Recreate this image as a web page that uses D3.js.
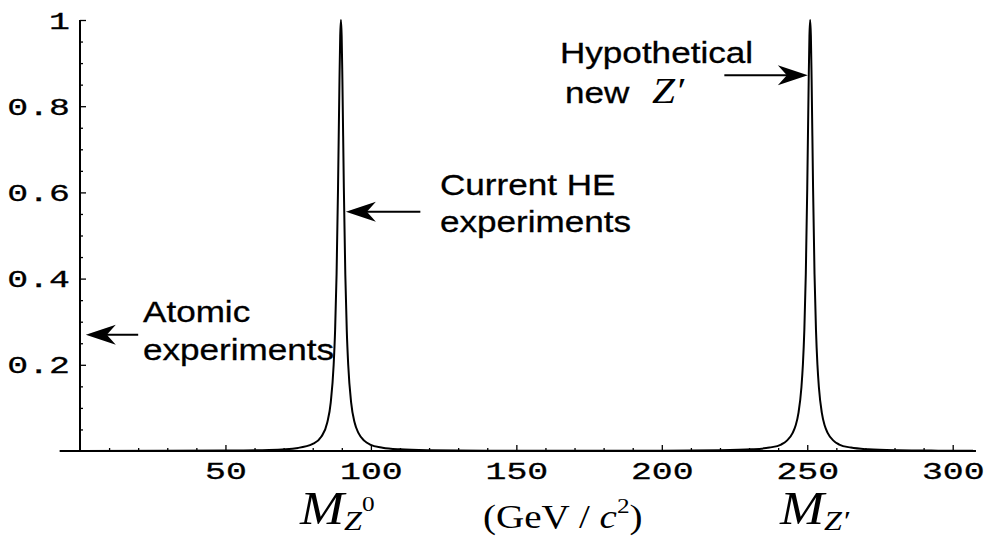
<!DOCTYPE html>
<html>

<head>
    <title>Z resonance</title>
    <script src="https://d3js.org/d3.v7.min.js"></script>
    <style>
        body { margin: 0; background: #fff; }
    </style>
</head>

<body>

    <svg width="984" height="538" id="mainSvg"></svg>
    <script>

        // values
        const curveMass = [0, 30, 50, 65, 75, 80, 83, 85, 86.2, 87.2, 87.7, 88.2, 88.7, 89.2, 89.45, 89.7,
            89.95, 90.2, 90.7, 91.2, 91.7, 92.2, 93.2, 94.4, 95.7, 97.7, 99.7, 104, 110, 120, 140, 170,
            200, 220, 231, 237, 241, 243, 245, 246, 247, 248, 248.5, 249, 249.5, 250, 250.5, 250.75, 251,
            251.25, 251.5, 252, 252.5, 253, 253.5, 254, 255, 256, 257, 259, 261, 265, 271, 281, 295, 307];
        const curveValue = [0.0002, 0.0004, 0.001, 0.0026, 0.0072, 0.0163, 0.0336, 0.066, 0.113, 0.2, 0.281, 0.41, 0.61, 0.862, 0.962, 1,
            0.962, 0.862, 0.61, 0.41, 0.281, 0.2, 0.113, 0.066, 0.042, 0.024, 0.015, 0.0076, 0.0038, 0.0018, 0.0007, 0.0005,
            0.0007, 0.0017, 0.0039, 0.0079, 0.015, 0.024, 0.042, 0.059, 0.089, 0.148, 0.2, 0.281, 0.41, 0.61, 0.862, 0.962, 1,
            0.962, 0.862, 0.61, 0.41, 0.281, 0.2, 0.148, 0.089, 0.059, 0.042, 0.024, 0.015, 0.0079, 0.0039, 0.0017, 0.0008, 0.0005];

        const xTicks = [50, 100, 150, 200, 250, 300];
        const yTicks = [0.2, 0.4, 0.6, 0.8, 1];

        // arrows: [tail mass, tip mass, level]
        const arrowAtomic = [20, 2, 0.27];
        const arrowCurrent = [117, 91.4, 0.555];
        const arrowNew = [221.5, 250.2, 0.872];

        const svg = d3.select("#mainSvg");

        const xScale = d3.scaleLinear().domain([0, 300]).range([80, 952.7]);
        const yScale = d3.scaleLinear().domain([0, 1]).range([451, 20]);

        const monoFont = "'Liberation Mono', 'DejaVu Sans Mono', monospace";
        const sansFont = "'Liberation Sans', Arial, sans-serif";
        const serifFont = "'Liberation Serif', 'Times New Roman', serif";

        // axes
        const yAxis = d3.axisLeft(yScale)
            .tickValues(yTicks)
            .tickSize(-6)
            .tickFormat(d3.format("~g"));
        const yMinor = d3.axisLeft(yScale)
            .tickValues(d3.range(0.05, 1, 0.05).filter(v => Math.abs(v * 5 - Math.round(v * 5)) > 0.01))
            .tickSize(-3)
            .tickFormat("");
        const xAxis = d3.axisBottom(xScale)
            .tickValues(xTicks)
            .tickSize(-6);
        const xMinor = d3.axisBottom(xScale)
            .tickValues(d3.range(10, 310, 10).filter(v => v % 50 !== 0))
            .tickSize(-3)
            .tickFormat("");

        const yAxisGroup = svg.append("g").attr("transform", `translate(${xScale(0)},0)`).call(yAxis);
        svg.append("g").attr("transform", `translate(${xScale(0)},0)`).call(yMinor);
        const xAxisGroup = svg.append("g").attr("transform", `translate(0,${yScale(0)})`).call(xAxis);
        svg.append("g").attr("transform", `translate(0,${yScale(0)})`).call(xMinor);

        svg.selectAll(".domain").remove();
        svg.selectAll(".tick line").attr("stroke", "#000").attr("stroke-width", 1.3);

        yAxisGroup.selectAll("text")
            .attr("x", null).attr("dy", null)
            .attr("transform", "translate(-10,8) scale(1.45,1)")
            .attr("font-family", monoFont)
            .attr("font-size", 24)
            .attr("fill", "#000")
            .attr("stroke", "#000")
            .attr("stroke-width", 0.3)
            .attr("text-anchor", "end");

        xAxisGroup.selectAll("text")
            .attr("y", null).attr("dy", null)
            .attr("transform", "translate(0,28) scale(1.45,1)")
            .attr("font-family", monoFont)
            .attr("font-size", 24)
            .attr("fill", "#000")
            .attr("stroke", "#000")
            .attr("stroke-width", 0.3)
            .attr("text-anchor", "middle");

        svg.append("line")
            .attr("x1", xScale(0)).attr("x2", xScale(0))
            .attr("y1", yScale(0)).attr("y2", yScale(1))
            .attr("stroke", "#000").attr("stroke-width", 2);
        svg.append("line")
            .attr("x1", xScale(-7)).attr("x2", xScale(308))
            .attr("y1", yScale(0)).attr("y2", yScale(0))
            .attr("stroke", "#000").attr("stroke-width", 2);

        // curve
        const line = d3.line()
            .x(d => xScale(d[0]))
            .y(d => yScale(d[1]))
            .curve(d3.curveMonotoneX);

        svg.append("path")
            .datum(d3.zip(curveMass, curveValue))
            .attr("d", line)
            .attr("fill", "none")
            .attr("stroke", "#000")
            .attr("stroke-width", 2);

        // arrows
        const drawArrow = function (a) {
            const x1 = xScale(a[0]), x2 = xScale(a[1]), y = yScale(a[2]);
            const dir = x2 > x1 ? 1 : -1;
            svg.append("line")
                .attr("x1", x1).attr("x2", x2 - dir * 20)
                .attr("y1", y).attr("y2", y)
                .attr("stroke", "#000").attr("stroke-width", 2);
            svg.append("path")
                .attr("transform", `translate(${x2},${y}) scale(${dir},1)`)
                .attr("d", "M0,0 L-30,-10 L-21,0 L-30,10 Z")
                .attr("fill", "#000");
        };
        drawArrow(arrowAtomic);
        drawArrow(arrowCurrent);
        drawArrow(arrowNew);

        const stretchText = function (x, y, sx, txt, font, size) {
            return svg.append("text")
                .attr("transform", `translate(${x},${y}) scale(${sx},1)`)
                .attr("font-family", font)
                .attr("font-size", size)
                .attr("fill", "#000")
                .text(txt);
        };

        // annotations
        const notes = [
            [143, 322, "Atomic"], [143, 360, "experiments"],
            [440, 195, "Current HE"], [440, 232, "experiments"],
            [560, 63, "Hypothetical"], [565, 103, "new"]
        ];
        notes.forEach(n => stretchText(n[0], n[1], 1.17, n[2], sansFont, 30)
            .attr("stroke", "#000").attr("stroke-width", 0.3));
        stretchText(652, 103, 1.15, "Z\u2032", serifFont, 36).attr("font-style", "italic");

        // axis labels
        const mz0 = stretchText(300, 524, 1.15, "", serifFont, 46);
        mz0.append("tspan").attr("font-style", "italic").text("M");
        mz0.append("tspan").attr("font-style", "italic").attr("font-size", 28).attr("dy", 6).text("Z");
        mz0.append("tspan").attr("font-size", 22).attr("dy", -19).text("0");

        const unit = stretchText(483, 528, 1.15, "", serifFont, 34);
        unit.append("tspan").text("(GeV / ");
        unit.append("tspan").attr("font-style", "italic").text("c");
        unit.append("tspan").attr("font-size", 22).attr("dy", -15).text("2");
        unit.append("tspan").attr("dy", 15).text(")");

        const mzp = stretchText(780, 524, 1.15, "", serifFont, 46);
        mzp.append("tspan").attr("font-style", "italic").text("M");
        mzp.append("tspan").attr("font-style", "italic").attr("font-size", 28).attr("dy", 6).text("Z\u2032");

    </script>
</body>

</html>
